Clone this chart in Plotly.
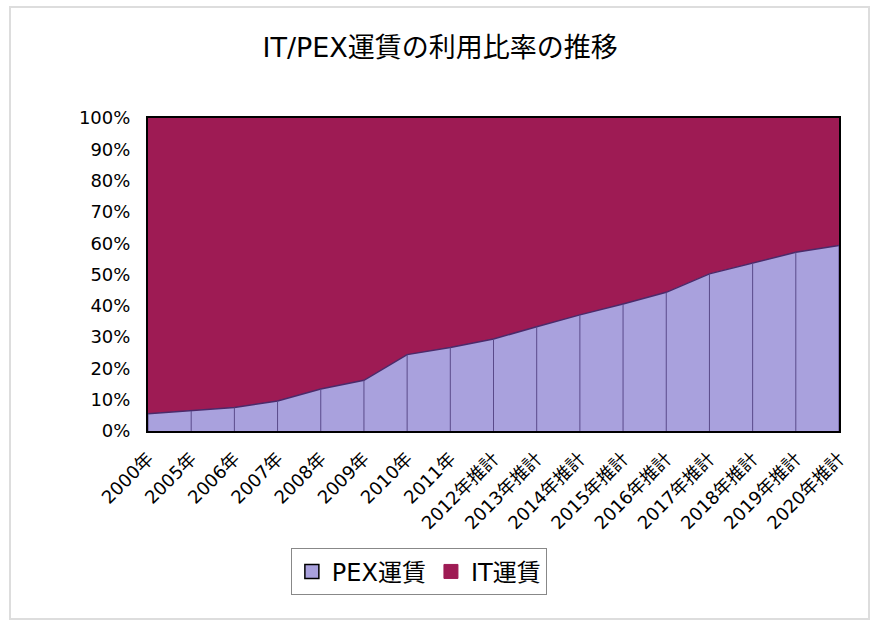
import plotly.graph_objects as go

categories = ["2000年", "2005年", "2006年", "2007年", "2008年", "2009年", "2010年", "2011年",
              "2012年推計", "2013年推計", "2014年推計", "2015年推計", "2016年推計",
              "2017年推計", "2018年推計", "2019年推計", "2020年推計"]
pex_share = [5.5, 6.4, 7.5, 9.6, 13.4, 16.2, 24.4, 26.7, 29.4, 33.3, 37.1, 40.6, 44.3, 50.2, 53.6, 57.1, 59.3]
it_share = [94.5, 93.6, 92.5, 90.4, 86.6, 83.8, 75.6, 73.3, 70.6, 66.7, 62.9, 59.4, 55.7, 49.8, 46.4, 42.9, 40.7]
tick_vals = [0, 10, 20, 30, 40, 50, 60, 70, 80, 90, 100]
tick_text = ["0%", "10%", "20%", "30%", "40%", "50%", "60%", "70%", "80%", "90%", "100%"]

PEX_COLOR = "#A9A1DD"
IT_COLOR = "#9E1B54"
FONT = "DejaVu Sans, Noto Sans CJK JP"

fig = go.Figure()
fig.add_trace(go.Scatter(x=categories, y=pex_share, stackgroup="one", mode="lines",
                         line=dict(color="#4A2A6A", width=1.5), fillcolor=PEX_COLOR,
                         name="PEX運賃", showlegend=False))
fig.add_trace(go.Scatter(x=categories, y=it_share, stackgroup="one", mode="lines",
                         line=dict(color=IT_COLOR, width=0), fillcolor=IT_COLOR,
                         name="IT運賃", showlegend=False))

# drop lines from baseline to the series boundary
dx, dy = [], []
for c, v in zip(categories, pex_share):
    dx += [c, c, None]
    dy += [0, v, None]
fig.add_trace(go.Scatter(x=dx, y=dy, mode="lines", line=dict(color="#5A4A8A", width=1),
                         showlegend=False, hoverinfo="skip"))

# legend entries
fig.add_trace(go.Scatter(x=[None], y=[None], mode="markers", name="PEX運賃",
                         marker=dict(symbol="square", size=14, color=PEX_COLOR,
                                     line=dict(color="black", width=1.5))))
fig.add_trace(go.Scatter(x=[None], y=[None], mode="markers", name="IT運賃",
                         marker=dict(symbol="square", size=14, color=IT_COLOR,
                                     line=dict(color=IT_COLOR, width=1))))

fig.update_layout(
    width=875, height=622,
    margin=dict(l=148, r=36, t=118, b=191),
    paper_bgcolor="white", plot_bgcolor="white",
    font=dict(family=FONT, color="black"),
    title=dict(text="IT/PEX運賃の利用比率の推移", x=0.503, xanchor="center",
               y=1 - 48 / 622, yanchor="middle",
               font=dict(family=FONT, size=27, color="black")),
    xaxis=dict(type="category", range=[0, len(categories) - 1], tickangle=-45,
               showgrid=False, ticks="", tickfont=dict(size=18), ticklabelstandoff=8,
               showline=True, linecolor="black", linewidth=2, mirror=True),
    yaxis=dict(range=[0, 100], tickvals=tick_vals, ticktext=tick_text, showgrid=False,
               ticks="", tickfont=dict(size=18), ticklabelstandoff=12,
               showline=True, linecolor="black", linewidth=2, mirror=True),
    legend=dict(orientation="h", x=0.392, xanchor="center", y=-0.45, yanchor="middle",
                bordercolor="#888888", borderwidth=1, font=dict(size=24),
                traceorder="normal", itemwidth=30, tracegroupgap=0),
    shapes=[dict(type="rect", xref="paper", yref="paper",
                 x0=-138 / 691, x1=1 + 30 / 691, y0=-188 / 313, y1=1 + 111 / 313,
                 line=dict(color="#DDDDDD", width=2), fillcolor="rgba(0,0,0,0)", layer="below")],
)

fig.write_html("out.html")
